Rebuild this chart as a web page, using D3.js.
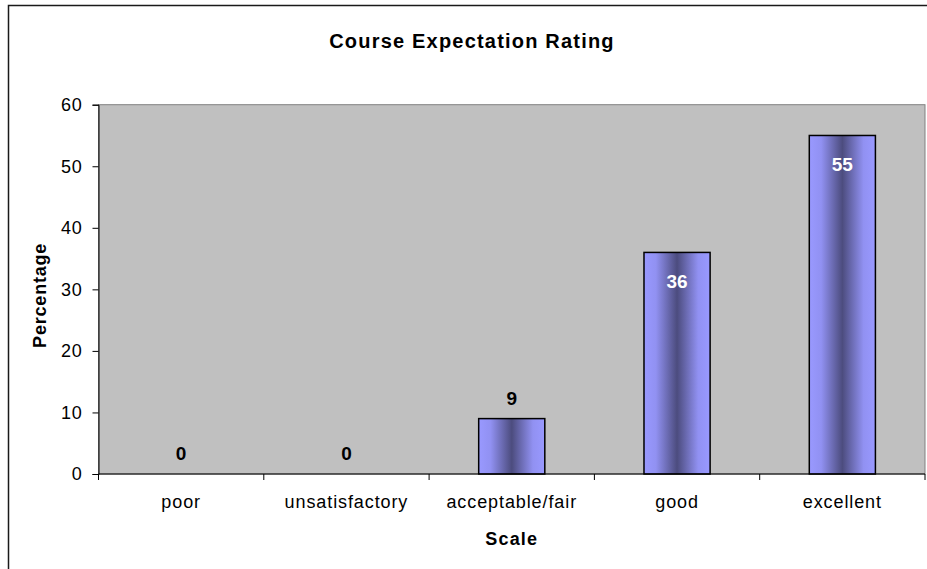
<!DOCTYPE html>
<html>
<head>
<meta charset="utf-8">
<script src="https://cdn.jsdelivr.net/npm/d3@7"></script>
<style>
  body { margin: 0; background: #fff; }
  svg { display: block; font-family: Arial, "Liberation Sans", sans-serif; }
</style>
</head>
<body>
<div id="chart"></div>
<script>
const categories = ["poor", "unsatisfactory", "acceptable/fair", "good", "excellent"];
const percentages = [0, 0, 9, 36, 55];
const yTicks = [0, 10, 20, 30, 40, 50, 60];

(function(){
  const width = 927, height = 569;
  const plot = { left: 98.5, right: 925, top: 104.7, bottom: 474 };

  const svg = d3.select("#chart").append("svg")
    .attr("width", width)
    .attr("height", height);

  // bar gradient (light edges, dark centre)
  const grad = svg.append("defs").append("linearGradient")
    .attr("id", "barGrad")
    .attr("x1", "0%").attr("x2", "100%").attr("y1", "0%").attr("y2", "0%");
  [[0, "#9999FF"], [0.18, "#9191F2"], [0.5, "#4C4C7E"], [0.82, "#9191F2"], [1, "#9999FF"]]
    .forEach(([o, c]) => grad.append("stop").attr("offset", o).attr("stop-color", c));

  // outer frame
  svg.append("rect")
    .attr("x", 8.5).attr("y", 5.5)
    .attr("width", 1000).attr("height", 1000)
    .attr("fill", "none").attr("stroke", "#1a1a1a").attr("stroke-width", 1.5);

  const x = d3.scaleBand()
    .domain(categories)
    .range([plot.left, plot.right])
    .paddingInner(0.6)
    .paddingOuter(0.3);

  const y = d3.scaleLinear()
    .domain([0, 60])
    .range([plot.bottom, plot.top]);

  // plot background
  svg.append("rect")
    .attr("x", plot.left).attr("y", plot.top)
    .attr("width", plot.right - plot.left).attr("height", plot.bottom - plot.top)
    .attr("fill", "#C0C0C0")
    .attr("stroke", "#808080").attr("stroke-width", 1);

  // bars
  svg.append("g")
    .selectAll("rect")
    .data(percentages)
    .enter().append("rect")
    .attr("x", (d, i) => x(categories[i]))
    .attr("y", d => y(d))
    .attr("width", x.bandwidth())
    .attr("height", d => y(0) - y(d))
    .attr("fill", "url(#barGrad)")
    .attr("stroke", d => d > 0 ? "#000" : "none")
    .attr("stroke-width", 1.5);

  // y axis
  const yAxis = svg.append("g")
    .attr("transform", `translate(${plot.left},0)`)
    .call(d3.axisLeft(y).tickValues(yTicks).tickSize(6).tickPadding(10));
  yAxis.selectAll("text")
    .attr("font-size", 18).attr("letter-spacing", 0.8)
    .attr("fill", "#000").attr("font-family", null);
  yAxis.selectAll("line, path").attr("stroke", "#000");

  // x axis: line plus ticks at category boundaries
  const step = x.step();
  const boundaries = categories.map(c => x(c) - step * x.paddingOuter()).concat([plot.right]);
  const xAxis = svg.append("g");
  xAxis.append("line")
    .attr("x1", plot.left).attr("x2", plot.right)
    .attr("y1", y(0)).attr("y2", y(0))
    .attr("stroke", "#000");
  xAxis.selectAll(".tick")
    .data(boundaries)
    .enter().append("line")
    .attr("x1", d => d).attr("x2", d => d)
    .attr("y1", y(0)).attr("y2", y(0) + 6)
    .attr("stroke", "#000");
  xAxis.selectAll("text")
    .data(categories)
    .enter().append("text")
    .attr("x", d => x(d) + x.bandwidth() / 2)
    .attr("y", y(0) + 34)
    .attr("text-anchor", "middle")
    .attr("font-size", 18)
    .attr("letter-spacing", 0.9)
    .text(d => d);

  // value labels
  svg.append("g")
    .selectAll("text")
    .data(percentages)
    .enter().append("text")
    .attr("x", (d, i) => x(categories[i]) + x.bandwidth() / 2)
    .attr("y", d => d > 20 ? y(d) + 36 : y(d) - 14)
    .attr("text-anchor", "middle")
    .attr("font-size", 19)
    .attr("font-weight", "bold")
    .attr("fill", d => d > 20 ? "#fff" : "#000")
    .text(d => d);

  // titles
  svg.append("text")
    .attr("x", 472).attr("y", 48)
    .attr("text-anchor", "middle")
    .attr("font-size", 20)
    .attr("font-weight", "bold")
    .attr("letter-spacing", 1.2)
    .text("Course Expectation Rating");

  svg.append("text")
    .attr("x", (plot.left + plot.right) / 2).attr("y", 545)
    .attr("text-anchor", "middle")
    .attr("font-size", 18)
    .attr("font-weight", "bold")
    .attr("letter-spacing", 1.2)
    .text("Scale");

  svg.append("text")
    .attr("transform", `translate(46,${(plot.top + plot.bottom) / 2 + 6}) rotate(-90)`)
    .attr("text-anchor", "middle")
    .attr("font-size", 18)
    .attr("font-weight", "bold")
    .attr("letter-spacing", 0.8)
    .text("Percentage");
})();
</script>
</body>
</html>
